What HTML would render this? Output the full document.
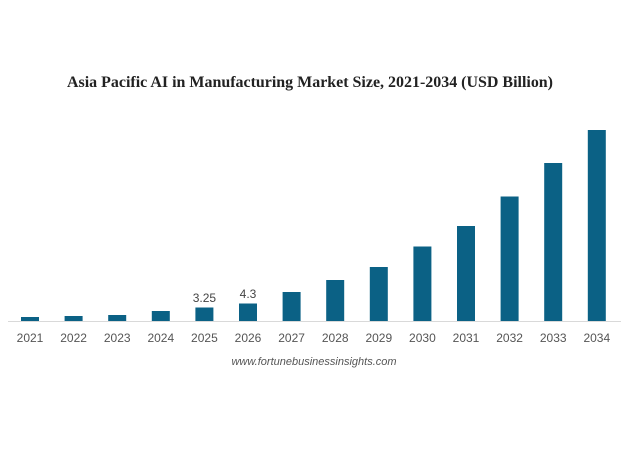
<!DOCTYPE html>
<html><head><style>body{margin:0;background:#fff}</style></head><body>
<svg width="628" height="471" xmlns="http://www.w3.org/2000/svg">
<text x="67" y="87" textLength="486" lengthAdjust="spacingAndGlyphs" font-family="Liberation Serif, serif" font-weight="bold" font-size="16" fill="#222">Asia Pacific AI in Manufacturing Market Size, 2021-2034 (USD Billion)</text>
<line x1="8" y1="321.5" x2="621" y2="321.5" stroke="#d9d9d9" stroke-width="1"/>
<g fill="#0b6185">
<rect x="21" y="317" width="18" height="4"/>
<rect x="64.6" y="316" width="18" height="5"/>
<rect x="108.2" y="315" width="18" height="6"/>
<rect x="151.8" y="311" width="18" height="10"/>
<rect x="195.4" y="307.5" width="18" height="13.5"/>
<rect x="239" y="303.5" width="18" height="17.5"/>
<rect x="282.6" y="292" width="18" height="29"/>
<rect x="326.2" y="280" width="18" height="41"/>
<rect x="369.8" y="267" width="18" height="54"/>
<rect x="413.4" y="246.5" width="18" height="74.5"/>
<rect x="457" y="226" width="18" height="95"/>
<rect x="500.6" y="196.5" width="18" height="124.5"/>
<rect x="544.2" y="163" width="18" height="158"/>
<rect x="587.8" y="130" width="18" height="191"/>
</g>
<g font-family="Liberation Sans, sans-serif" font-size="12" fill="#444" text-anchor="middle">
<text x="204.4" y="302">3.25</text>
<text x="248" y="298">4.3</text>
</g>
<g font-family="Liberation Sans, sans-serif" font-size="12" fill="#555" text-anchor="middle">
<text x="30" y="342">2021</text><text x="73.6" y="342">2022</text><text x="117.2" y="342">2023</text><text x="160.8" y="342">2024</text><text x="204.4" y="342">2025</text><text x="248" y="342">2026</text><text x="291.6" y="342">2027</text><text x="335.2" y="342">2028</text><text x="378.8" y="342">2029</text><text x="422.4" y="342">2030</text><text x="466" y="342">2031</text><text x="509.6" y="342">2032</text><text x="553.2" y="342">2033</text><text x="596.8" y="342">2034</text>
</g>
<text x="314" y="365" text-anchor="middle" font-family="Liberation Sans, sans-serif" font-style="italic" font-size="11" fill="#555">www.fortunebusinessinsights.com</text>
</svg>
</body></html>
